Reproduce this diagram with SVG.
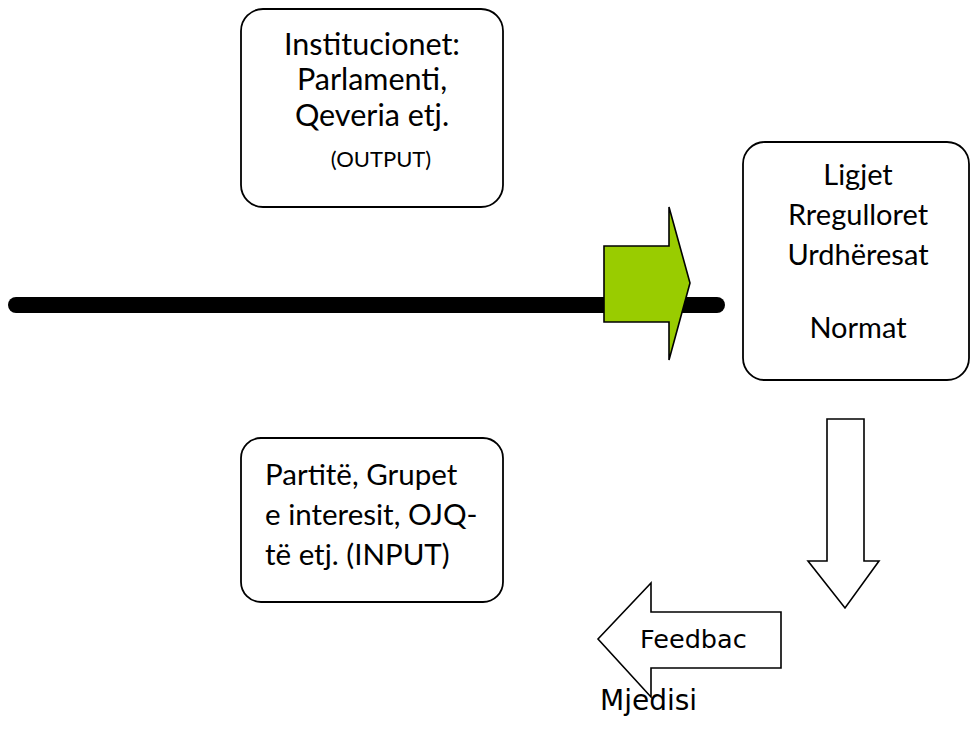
<svg xmlns="http://www.w3.org/2000/svg" width="971" height="735" viewBox="0 0 971 735">
<style>
.box{fill:#fff;stroke:#000;stroke-width:1.8}
.t{font-family:Lato,"Liberation Sans",sans-serif;fill:#000}
.c{text-anchor:middle}
.v{font-family:"DejaVu Sans",Verdana,sans-serif;fill:#000}
.arr{fill:#fff;stroke:#000;stroke-width:1.6;stroke-linejoin:miter}
</style>
<rect width="971" height="735" fill="#fff"/>
<g id="connectors">
<line x1="16" y1="305" x2="717" y2="305" stroke="#000" stroke-width="16" stroke-linecap="round"/>
<polygon points="604,246 669,246 669,207 690,283 669,360 669,322 604,322" fill="#99cc00" stroke="#000" stroke-width="1.6"/>
<polygon class="arr" points="827,419 864,419 864,561 879,561 845,608 808,561 827,561"/>
<g id="feedback">
<polygon class="arr" points="781,612 651,612 651,583 598,639 651,697 651,668 781,668"/>
<text class="v" x="640" y="648" font-size="25.5">Feedbac</text>
</g>
</g>
<g id="institucionet">
<rect class="box" x="241" y="9" width="262" height="198" rx="22"/>
<text class="t c" x="372" y="55" font-size="30.5">Institucionet:</text>
<text class="t c" x="372" y="90" font-size="30.5">Parlamenti,</text>
<text class="t c" x="372" y="126" font-size="30.5">Qeveria etj.</text>
<text class="t c" x="381" y="167" font-size="22">(OUTPUT)</text>
</g>
<g id="ligjet">
<rect class="box" x="743" y="142" width="226" height="238" rx="22"/>
<text class="t c" x="858" y="185" font-size="29">Ligjet</text>
<text class="t c" x="858" y="225" font-size="29">Rregulloret</text>
<text class="t c" x="858" y="265" font-size="29">Urdhëresat</text>
<text class="t c" x="858" y="338" font-size="29">Normat</text>
</g>
<g id="partite">
<rect class="box" x="241" y="438" width="262" height="164" rx="20"/>
<text class="t" x="265" y="485" font-size="29.5">Partitë, Grupet</text>
<text class="t" x="265" y="525" font-size="29.5">e interesit, OJQ-</text>
<text class="t" x="265" y="565" font-size="29.5">të etj. (INPUT)</text>
</g>
<g id="mjedisi">
<text class="v" x="600" y="710" font-size="28">Mjedisi</text>
</g>
</svg>
